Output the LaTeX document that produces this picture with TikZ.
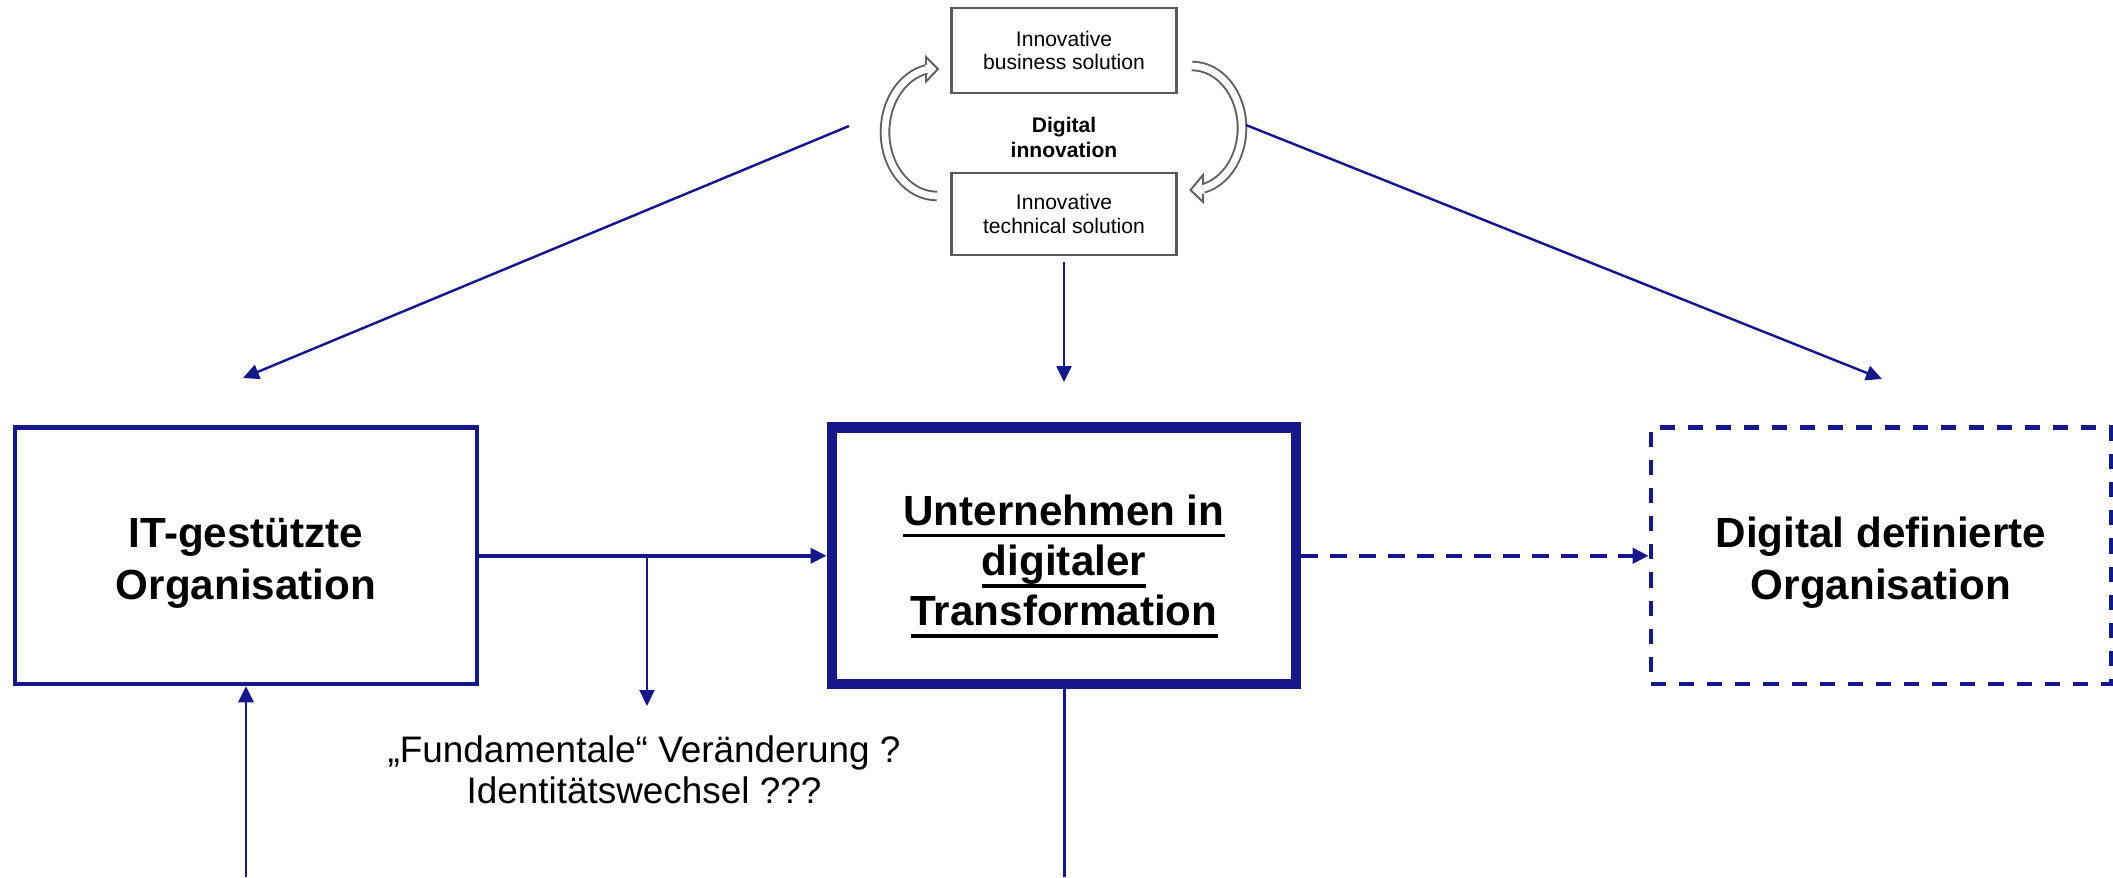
\documentclass[tikz,border=0pt]{standalone}
\usepackage{fontspec}
\setmainfont{Liberation Sans}
\usetikzlibrary{arrows.meta}
\definecolor{navy}{RGB}{20,24,136}
\definecolor{arcgray}{RGB}{95,95,95}
\newcommand{\undl}[1]{\leavevmode\setbox0\hbox{#1}\rlap{\rule[-3.5pt]{\wd0}{1.1pt}}\box0}

\begin{document}
\begin{tikzpicture}[
  orgbox/.style={draw=navy, line width=1.3pt, minimum width=4.62cm, minimum height=2.565cm, inner sep=0pt, align=center, text height=27.6pt, font=\fontsize{12}{15}\selectfont\bfseries},
  transbox/.style={orgbox, line width=3.1pt, minimum width=4.64cm, text height=43.3pt, font=\fontsize{12}{14.3}\selectfont\bfseries},
  futurebox/.style={orgbox, minimum width=4.6cm, dash pattern=on 4.3pt off 3.7pt},
  innobox/.style={draw=black!65, line width=0.6pt, minimum width=2.25cm, minimum height=0.85cm, inner sep=0pt, align=center, font=\fontsize{6}{6.8}\selectfont},
  conn/.style={draw=navy, line width=0.7pt, -{Triangle[length=1.6mm,width=1.5mm]}},
  hollow/.style={draw=arcgray, line width=0.55pt, double=white, double distance=1.9pt},
  headline/.style={draw=arcgray, line width=0.55pt, line join=miter},
]
\useasboundingbox (0,0) rectangle (21.13,-8.77);

\node[innobox] (biz) at (10.64,-0.505) {Innovative\\business solution};
\node[innobox, minimum height=0.82cm] (tech) at (10.64,-2.14) {Innovative\\technical solution};
\node[font=\fontsize{6}{7.1}\selectfont\bfseries, align=center] (diginno) at (10.64,-1.375) {Digital\\innovation};

\draw[hollow] (9.37,-1.96) arc[start angle=270, end angle=102, x radius=0.52cm, y radius=0.64cm];
\draw[headline] (9.26,-0.648) -- (9.26,-0.57) -- (9.38,-0.69) -- (9.26,-0.815) -- (9.26,-0.752);
\draw[hollow] (11.92,-0.66) arc[start angle=90, end angle=-77, x radius=0.50cm, y radius=0.62cm];
\draw[headline] (12.03,-1.832) -- (12.03,-1.75) -- (11.905,-1.9) -- (12.03,-2.02) -- (12.03,-1.936);

\node[orgbox] (itorg) at (2.46,-5.5575) {IT-gestützte\\Organisation};
\node[transbox] (trans) at (10.64,-5.5575) {\undl{Unternehmen in}\\\undl{digitaler}\\\undl{Transformation}};
\node[futurebox] (digdef) at (18.81,-5.5575) {Digital definierte\\Organisation};
\node[font=\fontsize{10.5}{11.6}\selectfont, align=center] (fundtext) at (6.44,-7.695) {„Fundamentale“ Veränderung ?\\Identitätswechsel ???};

\coordinate (ltop) at (8.49,-1.26);
\coordinate (lend) at (2.43,-3.78);
\coordinate (rtop) at (12.46,-1.25);
\coordinate (rend) at (18.82,-3.79);
\coordinate (split) at (6.47,-5.5575);
\coordinate (splitend) at (6.47,-7.06);
\coordinate (lbot) at (2.46,-8.77);
\coordinate (mbot) at (10.64,-8.77);

\draw[conn] (ltop) -- (lend);
\draw[conn] (rtop) -- (rend);
\draw[conn, shorten <=0.6mm, shorten >=4mm] (tech) -- (trans);
\draw[conn, line width=1.1pt] (itorg) -- (trans);
\draw[conn, line width=0.6pt] (split) -- (splitend);
\draw[conn, line width=1.1pt, dash pattern=on 4.8pt off 3.4pt] (trans) -- (digdef);
\draw[conn, line width=0.85pt] (lbot) -- (itorg);
\draw[navy, line width=0.85pt] (trans) -- (mbot);
\end{tikzpicture}
\end{document}
